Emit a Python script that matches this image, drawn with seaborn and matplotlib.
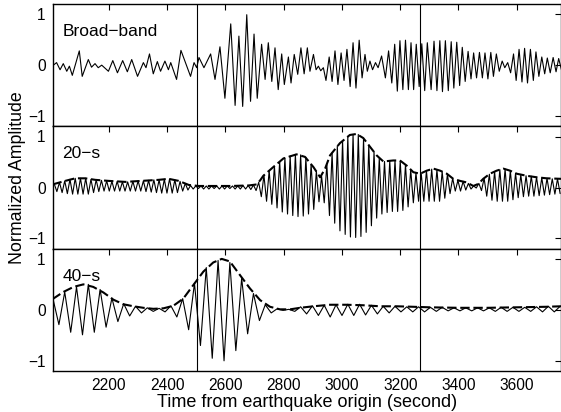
import numpy as np
import pandas as pd
import matplotlib
matplotlib.use("Agg")
import matplotlib.pyplot as plt
import seaborn as sns

# ---------------- data ----------------
# Broad-band trace: times (s) and amplitudes of successive extrema
bb_t = [2009, 2020, 2032, 2043, 2055, 2064, 2074, 2098, 2108, 2129,
        2140, 2152, 2163, 2175, 2198, 2213, 2229, 2247, 2263, 2278,
        2298, 2318, 2327, 2339, 2352, 2366, 2377, 2392, 2404, 2412,
        2432, 2447, 2480, 2492, 2501, 2509, 2526, 2549, 2564, 2581,
        2598, 2618, 2633, 2646, 2659, 2673, 2686, 2698, 2709, 2724,
        2736, 2747, 2759, 2770, 2781, 2793, 2802, 2816, 2825, 2836,
        2848, 2859, 2870, 2881, 2890, 2902, 2911, 2919, 2927, 2936,
        2945, 2956, 2966, 2976, 2986, 2997, 3007, 3017, 3028, 3038,
        3048, 3059, 3069, 3079, 3087, 3096, 3105, 3115, 3124, 3136,
        3149, 3160, 3171, 3181, 3190, 3199, 3209, 3218, 3228, 3237,
        3246, 3255, 3265, 3274, 3284, 3293, 3306, 3316, 3326, 3336,
        3345, 3355, 3365, 3375, 3384, 3394, 3404, 3413, 3423, 3433,
        3443, 3452, 3462, 3472, 3482, 3491, 3501, 3511, 3520, 3530,
        3540, 3550, 3559, 3569, 3579, 3589, 3598, 3608, 3618, 3627,
        3637, 3647, 3657, 3666, 3676, 3686, 3696, 3705, 3715, 3725,
        3735, 3744, 3754]
bb_v = [0.00, 0.05, -0.09, 0.03, -0.12, -0.02, -0.20, 0.28, -0.22, 0.11,
        -0.04, 0.03, -0.05, 0.00, -0.12, 0.09, -0.15, 0.09, -0.13, 0.11,
        -0.22, 0.05, -0.05, 0.22, -0.17, 0.07, -0.12, 0.08, -0.09, 0.05,
        -0.28, 0.29, -0.22, 0.05, -0.05, 0.15, -0.05, 0.22, -0.28, 0.36,
        -0.65, 0.81, -0.79, 0.57, -0.81, 0.99, -0.71, 0.61, -0.65, 0.41,
        -0.28, 0.44, -0.32, 0.34, -0.48, 0.22, -0.38, 0.16, -0.35, 0.21,
        -0.18, 0.34, -0.17, 0.34, -0.12, 0.21, -0.09, -0.02, -0.11, -0.05,
        -0.30, 0.16, -0.32, 0.28, -0.38, 0.24, -0.30, 0.31, -0.42, 0.44,
        -0.45, 0.49, -0.25, 0.21, -0.12, 0.08, -0.09, 0.05, -0.05, 0.18,
        -0.25, 0.28, -0.35, 0.41, -0.51, 0.48, -0.48, 0.49, -0.48, 0.44,
        -0.48, 0.41, -0.42, 0.42, -0.50, 0.44, -0.48, 0.47, -0.50, 0.48,
        -0.52, 0.48, -0.50, 0.46, -0.45, 0.45, -0.40, 0.35, -0.32, 0.27,
        -0.27, 0.24, -0.25, 0.25, -0.25, 0.24, -0.27, 0.25, -0.22, 0.22,
        -0.12, 0.08, -0.05, 0.05, -0.15, 0.22, -0.30, 0.31, -0.33, 0.33,
        -0.35, 0.31, -0.30, 0.26, -0.22, 0.16, -0.17, 0.14, -0.15, 0.15,
        -0.13, 0.13, -0.10]

# 20-s filtered trace: first crest time, period, crest and trough amplitudes
p20_start = 2012
p20_period = 18
p20_crests = [0.07, 0.10, 0.13, 0.16, 0.18, 0.18, 0.18, 0.16, 0.15, 0.14,
              0.13, 0.12, 0.12, 0.11, 0.11, 0.12, 0.13, 0.13, 0.14, 0.15,
              0.15, 0.16, 0.17, 0.15, 0.12, 0.08, 0.04, 0.03, 0.03, 0.03,
              0.03, 0.03, 0.03, 0.03, 0.03, 0.03, 0.04, 0.04, 0.05, 0.10,
              0.24, 0.33, 0.42, 0.51, 0.58, 0.62, 0.65, 0.64, 0.59, 0.46,
              0.32, 0.22, 0.45, 0.68, 0.82, 0.92, 1.00, 1.04, 1.04, 0.96,
              0.83, 0.70, 0.57, 0.51, 0.52, 0.53, 0.52, 0.45, 0.35, 0.29,
              0.28, 0.33, 0.36, 0.35, 0.31, 0.26, 0.18, 0.14, 0.12, 0.08,
              0.03, 0.08, 0.18, 0.26, 0.31, 0.35, 0.36, 0.33, 0.28, 0.25,
              0.23, 0.22, 0.20, 0.19, 0.18, 0.17, 0.17]
p20_troughs = [-0.08, -0.10, -0.12, -0.13, -0.13, -0.13, -0.13, -0.10, -0.08, -0.07,
               -0.07, -0.07, -0.07, -0.07, -0.07, -0.07, -0.07, -0.08, -0.09, -0.10,
               -0.11, -0.11, -0.11, -0.10, -0.07, -0.05, -0.03, -0.02, -0.03, -0.03,
               -0.02, -0.03, -0.03, -0.02, -0.03, -0.03, -0.03, -0.04, -0.06, -0.18,
               -0.27, -0.33, -0.40, -0.48, -0.52, -0.55, -0.57, -0.56, -0.52, -0.43,
               -0.28, -0.30, -0.55, -0.70, -0.85, -0.92, -0.97, -0.98, -0.96, -0.88,
               -0.75, -0.60, -0.52, -0.49, -0.47, -0.47, -0.45, -0.38, -0.30, -0.27,
               -0.27, -0.27, -0.27, -0.27, -0.21, -0.12, -0.07, -0.07, -0.05, -0.03,
               -0.01, -0.06, -0.17, -0.25, -0.27, -0.27, -0.27, -0.24, -0.20, -0.18,
               -0.17, -0.17, -0.16, -0.15, -0.14, -0.13, -0.12]
env20_t = [2006, 2050, 2084, 2119, 2153, 2198, 2256, 2313, 2370, 2405,
           2439, 2474, 2508, 2560, 2620, 2680, 2707, 2719, 2730, 2764,
           2799, 2844, 2873, 2902, 2925, 2942, 2959, 2993, 3027, 3050,
           3073, 3096, 3119, 3142, 3176, 3199, 3222, 3245, 3268, 3291,
           3314, 3337, 3360, 3382, 3405, 3428, 3451, 3468, 3485, 3508,
           3531, 3554, 3577, 3600, 3634, 3669, 3703, 3752]
env20_v = [0.06, 0.13, 0.18, 0.18, 0.15, 0.13, 0.11, 0.13, 0.15, 0.17,
           0.13, 0.05, 0.03, 0.03, 0.03, 0.04, 0.06, 0.14, 0.23, 0.40,
           0.57, 0.65, 0.60, 0.40, 0.20, 0.37, 0.63, 0.87, 1.03, 1.05,
           0.97, 0.80, 0.63, 0.51, 0.53, 0.53, 0.43, 0.30, 0.27, 0.33,
           0.37, 0.33, 0.27, 0.17, 0.13, 0.10, 0.03, 0.07, 0.17, 0.27,
           0.33, 0.37, 0.33, 0.27, 0.23, 0.20, 0.18, 0.17]

# 40-s filtered trace
p40_crest_start = 2007.5
p40_trough_start = 2028
p40_period = 40.5
p40_crests = [0.22, 0.35, 0.45, 0.50, 0.40, 0.23, 0.12, 0.07, 0.04, 0.03,
              0.08, 0.22, 0.52, 0.83, 0.97, 0.93, 0.62, 0.32, 0.10, 0.02,
              0.01, 0.06, 0.08, 0.09, 0.10, 0.11, 0.11, 0.09, 0.07, 0.07,
              0.06, 0.06, 0.05, 0.05, 0.04, 0.04, 0.04, 0.04, 0.05, 0.05,
              0.05, 0.06, 0.07, 0.07]
p40_troughs = [-0.29, -0.44, -0.49, -0.44, -0.34, -0.23, -0.12, -0.06, -0.03, -0.04,
               -0.14, -0.39, -0.70, -0.95, -1.00, -0.80, -0.47, -0.21, -0.06, -0.01,
               -0.03, -0.08, -0.11, -0.14, -0.11, -0.11, -0.10, -0.08, -0.06, -0.04,
               -0.04, -0.04, -0.03, -0.02, -0.02, -0.02, -0.02, -0.03, -0.03, -0.03,
               -0.03, -0.04, -0.04]
env40_t = [2006, 2043, 2078, 2112, 2146, 2181, 2215, 2249, 2284, 2318,
           2352, 2387, 2421, 2455, 2490, 2524, 2558, 2587, 2615, 2650,
           2684, 2719, 2753, 2787, 2822, 2856, 2902, 2959, 3016, 3073,
           3131, 3188, 3245, 3300, 3400, 3500, 3600, 3700, 3752]
env40_v = [0.21, 0.35, 0.45, 0.50, 0.45, 0.34, 0.20, 0.11, 0.07, 0.04,
           0.02, 0.03, 0.08, 0.22, 0.49, 0.75, 0.93, 1.00, 0.95, 0.68,
           0.42, 0.19, 0.06, 0.01, 0.01, 0.04, 0.07, 0.10, 0.10, 0.09,
           0.07, 0.07, 0.06, 0.05, 0.04, 0.04, 0.05, 0.06, 0.07]

panel_labels = ["Broad\u2212band", "20\u2212s", "40\u2212s"]
marker_times = [2503, 3269]
x_ticks = [2200, 2400, 2600, 2800, 3000, 3200, 3400, 3600]
y_ticks = [-1, 0, 1]
xlabel = "Time from earthquake origin (second)"
ylabel = "Normalized Amplitude"

# ---------------- assemble tables ----------------
def trace(crest_t, crest_v, trough_t, trough_v):
    df = pd.DataFrame({"t": np.concatenate([crest_t, trough_t]),
                       "v": np.concatenate([crest_v, trough_v])})
    return df.sort_values("t").reset_index(drop=True)

bb_df = pd.DataFrame({"t": bb_t, "v": bb_v})
p20_df = trace(p20_start + p20_period * np.arange(len(p20_crests)), p20_crests,
               p20_start + p20_period / 2 + p20_period * np.arange(len(p20_troughs)), p20_troughs)
p40_df = trace(p40_crest_start + p40_period * np.arange(len(p40_crests)), p40_crests,
               p40_trough_start + p40_period * np.arange(len(p40_troughs)), p40_troughs)
env20_df = pd.DataFrame({"t": env20_t, "v": env20_v})
env40_df = pd.DataFrame({"t": env40_t, "v": env40_v})

# ---------------- figure ----------------
sns.set_theme(style="white")
plt.rcParams['font.family'] = ['Liberation Sans', 'DejaVu Sans']
plt.rcParams['axes.unicode_minus'] = True
plt.rcParams['text.color'] = 'black'
plt.rcParams['axes.labelcolor'] = 'black'
plt.rcParams['xtick.color'] = 'black'
plt.rcParams['ytick.color'] = 'black'
plt.rcParams['axes.edgecolor'] = 'black'

W, H = 561, 412
fig = plt.figure(figsize=(W / 100, H / 100), dpi=100)
left_px, right_px = 52.5, 561
edges = [4, 126.3, 248.7, 371]

traces = [bb_df, p20_df, p40_df]
envs = [None, env20_df, env40_df]

for i in range(3):
    top, bot = edges[i], edges[i + 1]
    ax = fig.add_axes([left_px / W, 1 - bot / H, (right_px - left_px) / W, (bot - top) / H])
    sns.lineplot(data=traces[i], x="t", y="v", ax=ax, color="black", lw=0.8,
                 estimator=None, sort=False)
    if envs[i] is not None:
        sns.lineplot(data=envs[i], x="t", y="v", ax=ax, color="black", lw=1.5,
                     estimator=None, sort=False)
        ax.lines[-1].set_linestyle((0, (4.5, 1.8)))
    for mt in marker_times:
        ax.axvline(mt, color="black", lw=0.8)
    ax.set_xlim(2006, 3752)
    ax.set_ylim(-1.2, 1.2)
    ax.set_xticks(x_ticks)
    ax.set_yticks(y_ticks)
    ax.tick_params(direction="in", top=True, right=True, length=4, width=0.8,
                   labelsize=11.2, pad=5, colors="black", labelcolor="black")
    for sp in ax.spines.values():
        sp.set_linewidth(1.0)
        sp.set_color("black")
    ax.set_ylabel("")
    ax.set_xlabel("")
    ax.text(2040, 0.57, panel_labels[i], fontsize=12.5, ha="left", va="baseline",
            color="black")
    if i < 2:
        ax.tick_params(labelbottom=False)
    else:
        ax.set_xlabel(xlabel, fontsize=13, labelpad=1, color="black")

fig.text(18 / W, 1 - 178 / H, ylabel, rotation=90, ha="center", va="center",
         fontsize=12.8, color="black")

fig.savefig("out.png", dpi=100)
